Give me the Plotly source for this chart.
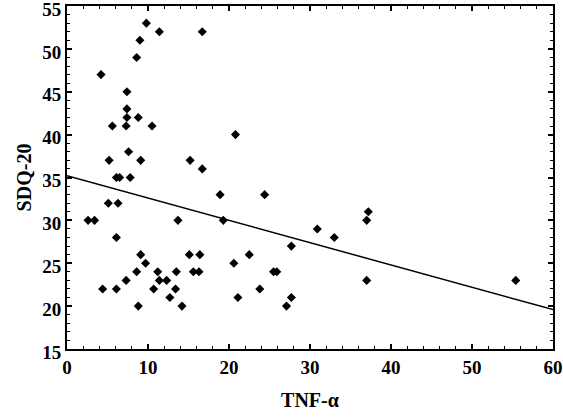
"""
Dispersão SDQ-20 vs TNF-alfa com reta de regressão.
"""

import plotly.graph_objects as go

# Valores
tnf_alpha = [
    9.8, 11.4, 16.7, 9.0, 8.6, 4.2, 7.4, 7.4, 7.4, 8.8,
    5.6, 7.3, 10.5, 20.8, 7.6, 5.2, 9.1, 15.2, 16.7, 6.1,
    6.5, 7.8, 18.9, 24.4, 5.1, 6.3, 2.6, 3.4, 13.7, 19.3,
    37.0, 37.2, 30.9, 6.1, 33.0, 27.7, 9.1, 15.1, 16.4, 22.5,
    9.7, 20.6, 8.6, 11.2, 13.5, 15.6, 16.3, 25.5, 25.9, 7.3,
    11.4, 12.3, 37.0, 55.4, 4.4, 6.1, 10.7, 13.4, 23.8, 12.7,
    21.1, 27.7, 8.8, 14.2, 27.1,
]
sdq20 = [
    53, 52, 52, 51, 49, 47, 45, 43, 42, 42,
    41, 41, 41, 40, 38, 37, 37, 37, 36, 35,
    35, 35, 33, 33, 32, 32, 30, 30, 30, 30,
    30, 31, 29, 28, 28, 27, 26, 26, 26, 26,
    25, 25, 24, 24, 24, 24, 24, 24, 24, 23,
    23, 23, 23, 23, 22, 22, 22, 22, 22, 21,
    21, 21, 20, 20, 20,
]

# Ticks dos eixos
x_ticks = [0, 10, 20, 30, 40, 50, 60]
y_ticks = [15, 20, 25, 30, 35, 40, 45, 50, 55]

# Coeficientes da reta
intercepto = 35.2
inclinacao = -0.26
x_reta = [0, 60]

FONTE = "Liberation Serif"

fig = go.Figure()

fig.add_trace(go.Scatter(
    x=tnf_alpha, y=sdq20,
    mode="markers",
    marker=dict(symbol="diamond", size=7, color="black"),
    showlegend=False,
))

y_reta = [intercepto + inclinacao * v for v in x_reta]
fig.add_trace(go.Scatter(
    x=x_reta, y=y_reta,
    mode="lines",
    line=dict(color="black", width=1.5),
    showlegend=False,
))

eixo = dict(
    showgrid=False, zeroline=False, automargin=False,
    showline=True, linecolor="black", linewidth=2, mirror="ticks",
    ticks="inside", ticklen=5, tickwidth=1.5, tickcolor="black",
    tickfont=dict(family=FONTE, size=19, color="#000000", weight=700),
    ticklabeloverflow="allow",
)

fig.update_xaxes(
    **eixo, range=[0, 60],
    tickvals=x_ticks, ticktext=[f"<b>{v}</b>" for v in x_ticks],
    minor=dict(dtick=2, ticks="inside", ticklen=3, tickcolor="black", tickwidth=1),
    title=dict(text="<b>TNF-α</b>", font=dict(family=FONTE, size=20, color="#000000"), standoff=16),
)
fig.update_yaxes(
    **eixo, range=[15, 55],
    tickvals=y_ticks, ticktext=[f"<b>{v}</b>" for v in y_ticks],
    ticklabelshift=3,
    minor=dict(dtick=1, ticks="inside", ticklen=3, tickcolor="black", tickwidth=1),
    title=dict(text="<b>SDQ-20</b>", font=dict(family=FONTE, size=20, color="#000000"), standoff=5),
)

fig.update_layout(
    width=563, height=417,
    margin=dict(l=67, r=10, t=6, b=68),
    plot_bgcolor="white", paper_bgcolor="white",
    font=dict(family=FONTE, color="#000000"),
)

# remove a margem padrão do body para o gráfico ocupar a janela inteira
fig.write_html(
    "out.html",
    config={"displayModeBar": False},
    post_script="document.body.style.margin='0';",
)
